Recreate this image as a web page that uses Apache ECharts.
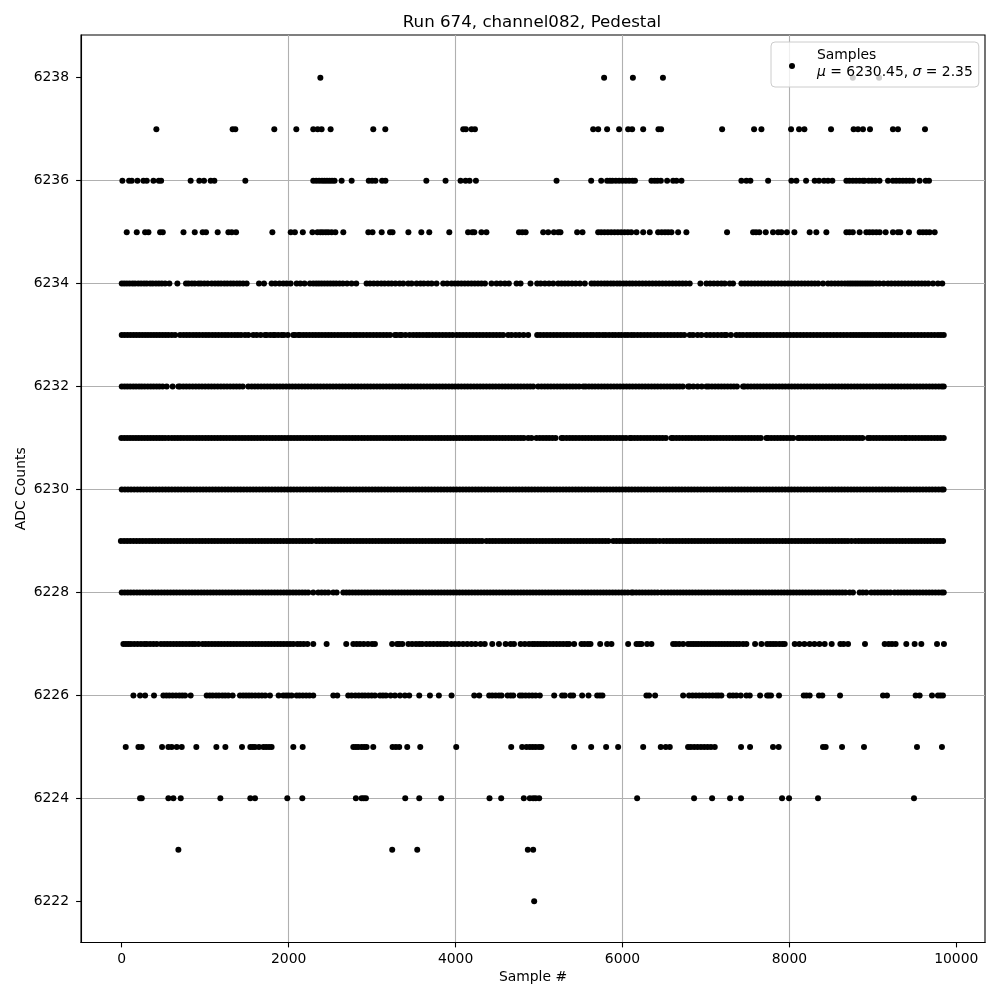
<!DOCTYPE html>
<html><head><meta charset="utf-8">
<style>html,body{margin:0;padding:0;background:#fff}#c{width:1000px;height:1000px}</style>
<script src="https://cdn.jsdelivr.net/npm/echarts@6/dist/echarts.min.js"></script>
</head><body><div id="c"></div>
<script>
const titleText = 'Run 674, channel082, Pedestal';
const xName = 'Sample #';
const yName = 'ADC Counts';
const seriesName = 'Samples';
const xTicks = [0,2000,4000,6000,8000,10000];
const yTicks = [6222,6224,6226,6228,6230,6232,6234,6236,6238];

const s6238 = [2380,5780,6125,6485,8760,9075];
const s6237 = [415,1329,1361,1828,2092,2295,2347,2395,2503,3014,3158,4092,4124,4192,4232,5649,5709,5816,5960,6068,6116,6248,6431,6463,7194,7577,7665,8020,8116,8180,8499,8770,8822,8882,8966,9241,9301,9625];
const s6236 = [8,88,120,188,260,300,380,444,472,826,930,986,1066,1110,1481,2295,2330,2365,2400,2430,2460,2490,2520,2550,2635,2755,2960,3000,3040,3120,3160,3650,3880,4060,4120,4168,4244,5210,5625,5745,5816,5850,5880,5920,5960,6000,6040,6080,6120,6150,6347,6385,6420,6460,6535,6607,6647,6707,7425,7485,7533,7745,8024,8084,8200,8303,8355,8415,8463,8515,8683,8720,8760,8800,8840,8880,8902,8950,8990,9030,9080,9182,9240,9280,9320,9360,9400,9440,9480,9561,9633,9673];
const s6235 = [60,180,280,320,460,492,740,875,970,1010,1150,1278,1318,1370,1805,2025,2075,2170,2285,2345,2380,2410,2445,2475,2515,2560,2655,2955,3005,3115,3215,3245,3435,3590,3685,3925,4150,4200,4225,4310,4370,4760,4800,4840,5050,5110,5178,5230,5257,5457,5521,5709,5745,5785,5825,5865,5905,5945,5985,6025,6065,6105,6168,6248,6327,6427,6470,6510,6547,6587,6667,6766,7253,7565,7600,7640,7717,7804,7865,7904,7970,8060,8243,8323,8443,8683,8720,8760,8842,8922,8960,9000,9042,9082,9154,9241,9300,9329,9433,9561,9600,9640,9680,9741];
const s6234 = [0,30,62,95,130,160,198,232,268,300,340,372,410,445,480,520,571,667,770,800,840,875,920,950,990,1030,1078,1118,1155,1190,1230,1265,1305,1340,1380,1415,1455,1497,1645,1705,1796,1840,1890,1936,1976,2024,2096,2140,2190,2255,2295,2330,2362,2395,2430,2465,2500,2535,2570,2610,2650,2700,2754,2810,2934,2975,3020,3065,3110,3150,3194,3234,3280,3330,3373,3433,3473,3533,3580,3620,3670,3713,3772,3852,3900,3952,3992,4030,4070,4110,4150,4190,4230,4270,4310,4352,4431,4491,4539,4591,4639,4731,4779,4898,4978,5020,5070,5120,5170,5230,5270,5310,5350,5395,5440,5490,5549,5629,5665,5705,5745,5785,5820,5860,5895,5935,5970,6010,6045,6085,6120,6160,6200,6240,6280,6320,6360,6400,6440,6480,6520,6560,6600,6640,6680,6720,6760,6806,6934,7006,7050,7095,7140,7185,7225,7285,7325,7425,7465,7505,7545,7585,7625,7665,7705,7745,7785,7825,7865,7905,7945,7985,8025,8065,8105,8145,8185,8225,8265,8305,8345,8403,8463,8503,8545,8585,8625,8665,8700,8730,8760,8790,8820,8850,8880,8910,8940,8970,9000,9040,9080,9130,9182,9222,9265,9305,9345,9385,9425,9465,9505,9545,9585,9625,9665,9721,9780,9832];
const s6233 = [0,35,70,105,140,175,210,245,280,315,350,385,420,455,490,525,560,600,640,700,740,778,815,855,892,930,970,1008,1045,1085,1122,1160,1200,1238,1275,1315,1355,1392,1430,1477,1517,1577,1617,1665,1717,1737,1780,1816,1836,1875,1916,1944,1990,2056,2076,2116,2136,2175,2212,2250,2288,2325,2362,2400,2438,2475,2512,2550,2590,2628,2665,2702,2740,2780,2815,2854,2894,2935,2975,3015,3055,3095,3135,3175,3215,3274,3294,3334,3354,3400,3450,3493,3533,3570,3610,3650,3685,3725,3765,3805,3845,3885,3925,3965,4012,4050,4090,4130,4170,4210,4250,4290,4330,4370,4410,4450,4490,4530,4570,4631,4671,4720,4765,4815,4870,4978,5015,5055,5095,5135,5175,5215,5255,5295,5335,5375,5415,5455,5495,5535,5575,5615,5650,5690,5725,5765,5800,5840,5880,5915,5955,5990,6030,6065,6105,6140,6180,6220,6260,6300,6340,6380,6420,6460,6500,6540,6580,6620,6660,6700,6740,6806,6846,6900,6946,7006,7050,7095,7140,7185,7225,7245,7300,7365,7405,7445,7490,7530,7570,7610,7650,7690,7730,7770,7810,7850,7890,7930,7970,8010,8050,8090,8130,8170,8210,8250,8290,8330,8370,8410,8450,8490,8530,8570,8610,8650,8690,8730,8765,8800,8835,8870,8905,8940,8975,9010,9045,9080,9115,9150,9185,9220,9260,9300,9340,9380,9420,9460,9500,9540,9580,9620,9660,9700,9740,9780,9815,9850];
const s6232 = [0,35,68,102,138,172,208,240,275,312,348,382,418,452,490,539,610,679,700,738,775,812,850,888,925,962,1000,1038,1075,1112,1150,1188,1225,1262,1300,1338,1375,1412,1450,1517,1557,1595,1632,1670,1708,1745,1782,1820,1858,1895,1932,1970,2008,2045,2082,2120,2158,2195,2232,2270,2308,2345,2382,2420,2458,2495,2532,2570,2608,2645,2682,2720,2758,2795,2832,2870,2908,2945,2982,3020,3058,3095,3132,3170,3208,3245,3282,3320,3358,3395,3432,3470,3508,3545,3582,3620,3658,3695,3732,3770,3808,3845,3882,3920,3958,3995,4032,4070,4108,4145,4182,4220,4258,4295,4332,4370,4408,4445,4482,4520,4558,4595,4632,4670,4708,4745,4782,4820,4858,4895,4930,4990,5030,5068,5105,5142,5180,5218,5255,5292,5330,5368,5405,5442,5480,5530,5560,5598,5635,5672,5710,5748,5785,5822,5860,5898,5935,5972,6010,6048,6085,6122,6160,6198,6235,6272,6310,6348,6385,6422,6460,6498,6535,6572,6610,6648,6685,6722,6786,6806,6850,6900,6950,7006,7034,7072,7110,7148,7185,7222,7260,7298,7335,7372,7445,7465,7502,7540,7578,7615,7652,7690,7728,7765,7802,7840,7878,7915,7952,7990,8028,8065,8102,8140,8178,8215,8252,8290,8328,8365,8402,8440,8478,8515,8552,8590,8628,8665,8702,8740,8778,8815,8852,8890,8928,8965,9002,9040,9078,9115,9152,9190,9228,9265,9302,9340,9378,9415,9452,9490,9528,9565,9602,9640,9678,9715,9752,9790,9825,9850];
const s6231 = [-5,30,65,100,135,170,205,240,275,310,345,380,415,450,485,520,560,600,636,672,708,745,782,818,855,892,928,965,1002,1038,1075,1112,1148,1185,1222,1258,1295,1332,1368,1405,1442,1478,1515,1552,1588,1625,1662,1698,1735,1772,1808,1845,1882,1918,1955,1992,2028,2065,2102,2138,2175,2212,2248,2285,2322,2358,2395,2432,2468,2505,2542,2578,2615,2652,2688,2725,2762,2798,2835,2874,2910,2948,2985,3022,3058,3095,3132,3168,3205,3242,3278,3315,3352,3388,3425,3462,3498,3535,3572,3608,3645,3682,3718,3755,3792,3828,3865,3902,3938,3975,4012,4048,4085,4122,4158,4195,4232,4268,4305,4342,4378,4415,4452,4488,4525,4562,4598,4635,4672,4708,4745,4782,4818,4870,4910,4970,5010,5048,5085,5122,5160,5198,5270,5290,5330,5368,5405,5442,5480,5518,5555,5592,5630,5668,5705,5742,5780,5818,5855,5892,5930,5968,6005,6042,6088,6108,6145,6182,6220,6258,6295,6332,6370,6408,6445,6482,6520,6587,6607,6645,6682,6720,6758,6795,6832,6870,6908,6945,6982,7020,7058,7095,7132,7170,7208,7245,7282,7320,7358,7395,7432,7470,7508,7545,7582,7620,7658,7725,7745,7782,7820,7858,7895,7932,7970,8008,8045,8104,8124,8162,8200,8238,8275,8312,8350,8388,8425,8462,8500,8538,8575,8612,8650,8688,8725,8762,8800,8838,8875,8942,8970,9008,9045,9082,9120,9158,9195,9232,9270,9308,9345,9381,9401,9438,9475,9512,9550,9588,9625,9662,9700,9738,9775,9812,9850];
const s6230 = [0,38,75,112,150,188,225,262,300,338,375,412,450,488,525,562,600,638,675,712,750,788,825,862,900,938,975,1012,1050,1088,1125,1162,1200,1238,1275,1312,1350,1388,1425,1462,1500,1538,1575,1612,1650,1688,1725,1762,1800,1838,1875,1912,1950,1988,2025,2062,2100,2138,2175,2212,2250,2288,2325,2362,2400,2438,2475,2512,2550,2588,2625,2662,2700,2738,2775,2812,2850,2888,2925,2962,3000,3038,3075,3112,3150,3188,3225,3262,3300,3338,3375,3412,3450,3488,3525,3562,3600,3638,3675,3712,3750,3788,3825,3862,3900,3938,3975,4012,4050,4088,4125,4162,4200,4238,4275,4312,4350,4388,4425,4462,4500,4538,4575,4612,4650,4688,4725,4762,4800,4838,4875,4912,4950,4988,5025,5062,5100,5138,5175,5212,5250,5288,5325,5362,5400,5438,5475,5512,5550,5588,5625,5662,5700,5738,5775,5812,5850,5888,5925,5962,6000,6038,6075,6112,6150,6188,6225,6262,6300,6338,6375,6412,6450,6488,6525,6562,6600,6638,6675,6712,6750,6788,6825,6862,6900,6938,6975,7012,7050,7088,7125,7162,7200,7238,7275,7312,7350,7388,7425,7462,7500,7538,7575,7612,7650,7688,7725,7762,7800,7838,7875,7912,7950,7988,8025,8062,8100,8138,8175,8212,8250,8288,8325,8362,8400,8438,8475,8512,8550,8588,8625,8662,8700,8738,8775,8812,8850,8888,8925,8962,9000,9038,9075,9112,9150,9188,9225,9262,9300,9338,9375,9412,9450,9488,9525,9562,9600,9638,9675,9712,9750,9788,9825,9848];
const s6229 = [-10,28,65,102,140,178,215,252,290,328,365,402,440,478,515,552,590,628,665,702,740,778,815,852,890,928,965,1002,1040,1078,1115,1152,1190,1228,1265,1302,1340,1378,1415,1452,1490,1528,1565,1602,1640,1678,1715,1752,1790,1828,1865,1902,1940,1978,2015,2052,2090,2128,2165,2202,2240,2278,2330,2368,2405,2442,2480,2518,2555,2592,2630,2668,2705,2742,2780,2818,2855,2892,2930,2968,3005,3042,3080,3118,3155,3192,3230,3268,3305,3342,3380,3418,3455,3492,3530,3568,3605,3642,3680,3718,3755,3792,3830,3868,3905,3942,3980,4018,4055,4092,4130,4168,4205,4242,4280,4318,4370,4408,4445,4482,4520,4558,4595,4632,4670,4708,4745,4782,4820,4858,4895,4932,4970,5008,5045,5082,5120,5158,5195,5232,5270,5308,5345,5382,5420,5458,5495,5532,5570,5608,5645,5682,5720,5758,5795,5832,5890,5928,5965,6002,6040,6070,6100,6140,6178,6215,6252,6290,6328,6365,6402,6445,6490,6530,6568,6605,6642,6680,6718,6755,6792,6830,6868,6905,6942,6980,7018,7055,7092,7130,7168,7205,7242,7280,7318,7355,7392,7430,7468,7505,7542,7580,7618,7655,7692,7730,7768,7805,7842,7880,7918,7955,7992,8030,8068,8105,8142,8180,8215,8250,8290,8328,8365,8402,8440,8478,8515,8552,8590,8628,8665,8702,8745,8790,8830,8868,8905,8942,8980,9018,9055,9092,9130,9168,9205,9242,9280,9318,9355,9392,9430,9468,9505,9542,9580,9618,9655,9692,9730,9768,9805,9842];
const s6228 = [0,36,72,108,145,182,218,255,292,328,365,402,438,475,512,548,585,622,658,695,732,768,805,842,878,915,952,988,1025,1062,1098,1135,1172,1208,1245,1282,1318,1355,1392,1428,1465,1502,1538,1575,1612,1648,1685,1722,1758,1795,1832,1868,1905,1942,1978,2015,2052,2088,2125,2162,2198,2235,2295,2355,2395,2435,2475,2535,2575,2655,2692,2728,2765,2802,2838,2875,2912,2948,2985,3022,3058,3095,3132,3168,3205,3242,3278,3315,3352,3388,3425,3462,3498,3535,3572,3608,3645,3682,3718,3755,3792,3828,3865,3902,3938,3975,4012,4048,4085,4122,4158,4195,4232,4268,4305,4342,4378,4415,4452,4488,4525,4562,4598,4635,4672,4708,4745,4782,4818,4855,4892,4928,4965,5002,5038,5075,5112,5148,5185,5222,5258,5295,5332,5368,5405,5442,5478,5515,5552,5588,5625,5662,5698,5735,5772,5808,5845,5882,5918,5955,5992,6028,6065,6108,6128,6165,6202,6238,6275,6312,6348,6385,6422,6467,6507,6545,6582,6618,6655,6692,6728,6765,6802,6838,6875,6912,6948,6985,7022,7058,7095,7132,7168,7205,7242,7278,7315,7352,7388,7425,7462,7498,7535,7572,7608,7645,7682,7718,7755,7792,7828,7865,7902,7938,7975,8012,8048,8085,8122,8158,8195,8232,8268,8305,8342,8378,8415,8452,8488,8525,8562,8598,8635,8672,8722,8762,8842,8880,8922,8982,9022,9060,9098,9135,9172,9210,9261,9301,9338,9375,9412,9450,9488,9525,9562,9600,9638,9675,9712,9750,9788,9825,9850];
const s6227 = [20,50,80,110,150,190,230,270,300,340,380,420,470,508,545,582,620,658,695,732,770,808,845,878,920,970,1005,1042,1080,1118,1155,1192,1230,1268,1305,1342,1380,1418,1455,1492,1530,1568,1605,1642,1680,1718,1755,1792,1830,1868,1905,1942,1980,2018,2056,2104,2140,2180,2225,2295,2455,2690,2775,2815,2855,2900,2950,3000,3034,3240,3300,3325,3362,3435,3480,3525,3565,3600,3650,3692,3735,3780,3820,3860,3900,3950,3995,4040,4090,4140,4190,4240,4300,4350,4440,4520,4600,4660,4700,4780,4830,4880,4920,4950,4985,5020,5055,5090,5130,5170,5210,5250,5290,5330,5361,5421,5509,5545,5585,5617,5733,5816,5868,6068,6168,6200,6228,6295,6347,6607,6640,6680,6727,6786,6820,6850,6880,6910,6945,6980,7015,7050,7085,7120,7155,7190,7225,7260,7295,7330,7365,7400,7445,7485,7589,7665,7733,7770,7805,7840,7880,7915,7944,8064,8120,8180,8243,8300,8360,8423,8507,8611,8650,8703,8906,9142,9190,9230,9273,9401,9501,9581,9769,9852];
const s6226 = [140,220,280,387,499,535,570,610,650,690,725,759,826,1018,1055,1090,1130,1165,1205,1240,1277,1329,1417,1455,1490,1525,1560,1600,1640,1680,1720,1776,1880,1936,1970,2000,2036,2096,2130,2170,2210,2250,2295,2535,2583,2714,2755,2800,2840,2880,2915,2955,2995,3034,3094,3130,3166,3222,3274,3334,3393,3445,3565,3693,3800,3952,4224,4284,4403,4440,4480,4520,4551,4623,4660,4691,4770,4800,4840,4880,4920,4960,5010,5182,5277,5309,5377,5409,5517,5593,5697,5730,5760,6287,6319,6391,6727,6798,6840,6880,6920,6960,7000,7040,7080,7120,7150,7185,7285,7325,7365,7417,7485,7525,7649,7733,7755,7780,7876,8172,8205,8243,8355,8395,8607,9122,9170,9513,9561,9709,9780,9810,9840];
const s6225 = [48,200,240,483,559,599,659,719,894,1134,1242,1441,1541,1570,1597,1645,1697,1730,1765,1796,2056,2168,2775,2805,2834,2874,2905,2934,3014,3245,3285,3325,3421,3577,4008,4667,4798,4850,4890,4925,4960,5000,5030,5421,5625,5804,5948,6248,6459,6519,6567,6786,6820,6860,6900,6940,6980,7020,7060,7106,7421,7529,7804,7872,8403,8435,8631,8894,9529,9828];
const s6224 = [220,240,559,619,707,1182,1541,1597,1984,2164,2806,2874,2900,2926,3397,3565,3828,4407,4547,4818,4890,4930,4960,5002,6176,6858,7074,7289,7421,7912,7996,8343,9493];
const s6223 = [679,3241,3541,4866,4930];
const s6222 = [4942];

const rows = [[6238,s6238],[6237,s6237],[6236,s6236],[6235,s6235],[6234,s6234],[6233,s6233],[6232,s6232],[6231,s6231],[6230,s6230],[6229,s6229],[6228,s6228],[6227,s6227],[6226,s6226],[6225,s6225],[6224,s6224],[6223,s6223],[6222,s6222]];
const points = [];
rows.forEach(([y, xs]) => xs.forEach(x => points.push([x, y])));

const FONT = '"DejaVu Sans"';
const chart = echarts.init(document.getElementById('c'), null, {renderer:'canvas'});
const axisCommon = {
  type:'value', nameLocation:'middle', nameMoveOverlap:false,
  nameTextStyle:{fontFamily:FONT,fontSize:13.9,color:'#000'},
  axisLine:{show:true,onZero:false,lineStyle:{color:'#000',width:1.1}},
  splitLine:{show:true,showMinLine:false,showMaxLine:false,lineStyle:{color:'#b0b0b0',width:1.1}},
  minorTick:{show:false}
};
chart.setOption({
  animation:false,
  backgroundColor:'#fff',
  title:{text:titleText,left:527,top:9,textAlign:'center',textStyle:{fontFamily:FONT,fontSize:16.67,fontWeight:'normal',color:'#000'}},
  grid:{left:81,right:15,top:35,bottom:57.5,show:true,borderColor:'#000',borderWidth:1.1,backgroundColor:'#fff'},
  xAxis:Object.assign({},axisCommon,{
    min:-488,max:10344,name:xName,nameGap:28,
    axisTick:{show:true,customValues:xTicks,length:4.9,lineStyle:{color:'#000',width:1.1}},
    axisLabel:{customValues:xTicks,formatter:v=>String(v),fontFamily:FONT,fontSize:13.9,color:'#000',margin:10}
  }),
  yAxis:Object.assign({},axisCommon,{
    min:6221.2,max:6238.83,name:yName,nameGap:53,
    axisTick:{show:true,customValues:yTicks,length:4.9,lineStyle:{color:'#000',width:1.1}},
    axisLabel:{customValues:yTicks,formatter:v=>String(v),fontFamily:FONT,fontSize:13.9,color:'#000',margin:12}
  }),
  legend:{
    show:true,left:771,top:42,orient:'vertical',
    padding:[4.5,6,1.5,18],itemWidth:40,itemHeight:6,
    icon:'circle',symbolKeepAspect:true,
    backgroundColor:'rgba(255,255,255,0.8)',borderColor:'#cccccc',borderWidth:1,borderRadius:4,
    data:[seriesName],
    formatter:()=>seriesName+'\n{i|μ} = 6230.45, {i|σ} = 2.35\n{s| }',
    textStyle:{fontFamily:FONT,fontSize:13.9,color:'#000',lineHeight:17,
      rich:{i:{fontFamily:FONT,fontStyle:'italic',fontSize:13.9,color:'#000',lineHeight:17},s:{fontSize:4,lineHeight:5}}}
  },
  series:[{name:seriesName,type:'scatter',symbol:'circle',symbolSize:6,itemStyle:{color:'#000',opacity:1},data:points,large:false,silent:true,z:3}]
});
</script></body></html>
